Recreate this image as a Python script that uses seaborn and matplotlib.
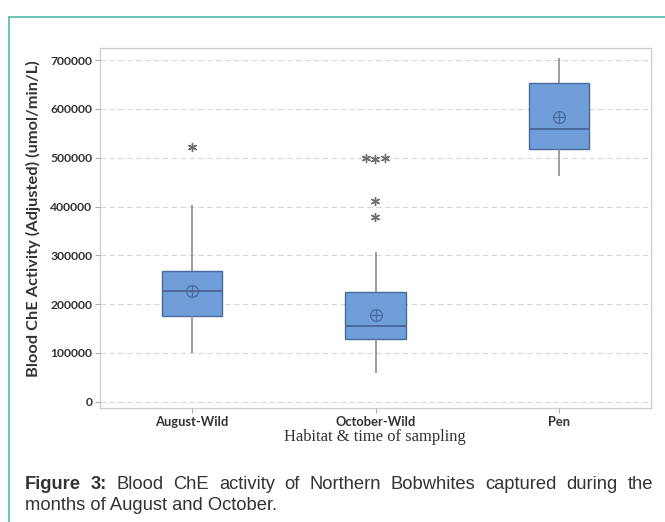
import numpy as np
import pandas as pd
import matplotlib.pyplot as plt
from matplotlib.lines import Line2D
import seaborn as sns

# Habitat groups on the x axis
groups = ['August-Wild', 'October-Wild', 'Pen']

# Blood ChE activity readings (umol/min/L)
august = [100400, 105000, 112000, 125000, 145000, 175600, 178000, 182000,
          188000, 198000, 226200, 228000, 232000, 238000, 246000, 268400,
          272000, 284000, 317000, 403000, 522000]
october = [58200, 60000, 62000, 63000, 64000, 65000, 67000, 69000, 71000,
           72400, 127800, 128000, 128500, 129000, 130000, 131000, 132000,
           134000, 137000, 142000, 155100, 155500, 156000, 156500, 157000,
           158000, 159000, 161000, 164000, 170000, 225400, 226000, 228000,
           231000, 240000, 307300, 378000, 412000, 497000, 498500, 500000]
pen = [462400, 500000, 512000, 517100, 540000, 552000, 558100, 610000,
       638800, 652300, 664000, 680000, 704000]

yticks = [0, 100000, 200000, 300000, 400000, 500000, 600000, 700000]

df = pd.DataFrame({
    'habitat': ['August-Wild'] * len(august) + ['October-Wild'] * len(october) + ['Pen'] * len(pen),
    'activity': august + october + pen,
})

# outliers beyond 1.5 IQR get drawn separately (Minitab puts ties side by side)
rows = []
for g, vals in zip(groups, [august, october, pen]):
    q1, q3 = np.percentile(vals, [25, 75])
    lim = 1.5 * (q3 - q1)
    for v in vals:
        if v < q1 - lim or v > q3 + lim:
            rows.append((g, v))
fliers = pd.DataFrame(rows, columns=['habitat', 'activity'])

sns.set_style('white')
plt.rcParams['font.family'] = ['Lato', 'DejaVu Sans']

box_color = '#6f9ed9'
edge_color = '#4a6a9e'

fig = plt.figure(figsize=(6.65, 5.22), dpi=100)
ax = fig.add_axes([100 / 665, 114 / 522, 551 / 665, 360 / 522])

sns.boxplot(data=df, x='habitat', y='activity', order=groups, ax=ax,
            color=box_color, saturation=1, width=0.33, showfliers=False,
            showcaps=False, showmeans=True, linewidth=1.0,
            boxprops=dict(edgecolor=edge_color),
            whiskerprops=dict(color='#8c8c8c', linewidth=1.2),
            medianprops=dict(color=edge_color, linewidth=1.4),
            meanprops=dict(marker='o', markersize=8.5, markerfacecolor='none',
                           markeredgecolor=edge_color, markeredgewidth=0.9))

# the cross inside the mean circle
sns.pointplot(data=df, x='habitat', y='activity', order=groups, ax=ax,
              estimator='mean', errorbar=None, linestyle='none', marker='+',
              markersize=8.5, markeredgewidth=0.9, color=edge_color)

sns.swarmplot(data=fliers, x='habitat', y='activity', order=groups, ax=ax,
              marker=(6, 2, 0), size=5.8, color='#6e6e6e', edgecolor='#6e6e6e',
              linewidth=1.0)

ax.set_xlim(-0.5, 2.5)
ax.set_ylim(-13000, 725000)
ax.set_yticks(yticks)
ax.set_yticklabels([str(t) for t in yticks])
ax.yaxis.grid(True, linestyle=(0, (5, 3)), color='#d6d6d6', linewidth=0.8)
ax.set_axisbelow(True)
ax.set_xlabel('')
ax.set_ylabel('')
for s in ax.spines.values():
    s.set_color('#cccccc')
    s.set_linewidth(0.9)
ax.tick_params(axis='both', bottom=True, left=True, direction='out', length=3.5,
               width=0.8, color='#aaaaaa', labelcolor='#333333', pad=2)
ax.tick_params(axis='y', labelsize=8.7)
ax.tick_params(axis='x', labelsize=9.3)
for lab in ax.get_xticklabels() + ax.get_yticklabels():
    lab.set_fontweight('bold')

fig.text(33 / 665, 1 - 219 / 522, 'Blood ChE Activity (Adjusted) (umol/min/L)',
         rotation=90, ha='center', va='center', fontsize=11.8,
         fontweight='bold', color='#333333')
fig.text(375 / 665, 1 - 437 / 522, 'Habitat & time of sampling',
         family=['Liberation Serif', 'DejaVu Serif'], fontsize=11.9,
         ha='center', va='center', color='#333333')

# teal frame of the figure box
frame = '#5cc2b3'
fig.add_artist(Line2D([9 / 665, 9 / 665], [0, 1 - 17 / 522], transform=fig.transFigure,
                      color=frame, lw=1.3))
fig.add_artist(Line2D([9 / 665, 1], [1 - 17 / 522, 1 - 17 / 522], transform=fig.transFigure,
                      color=frame, lw=1.3))

# caption, first line justified
cap_font = ['Liberation Sans', 'DejaVu Sans']
words = ['Figure', '3:', 'Blood', 'ChE', 'activity', 'of', 'Northern',
         'Bobwhites', 'captured', 'during', 'the']
texts = []
for i, w in enumerate(words):
    texts.append(fig.text(0, 1 - 489 / 522, w, family=cap_font, fontsize=13.2,
                          fontweight='bold' if i < 2 else 'normal',
                          color='#333333', va='baseline', ha='left'))
fig.canvas.draw()
r = fig.canvas.get_renderer()
widths = [t.get_window_extent(r).width for t in texts]
left, right = 25, 653
gap = (right - left - sum(widths)) / (len(words) - 1)
x = left
for t, w in zip(texts, widths):
    t.set_x(x / 665)
    x += w + gap
fig.text(25 / 665, 1 - 510 / 522, 'months of August and October.', family=cap_font,
         fontsize=13.2, color='#333333', va='baseline', ha='left')

fig.savefig('out.png', dpi=100)
